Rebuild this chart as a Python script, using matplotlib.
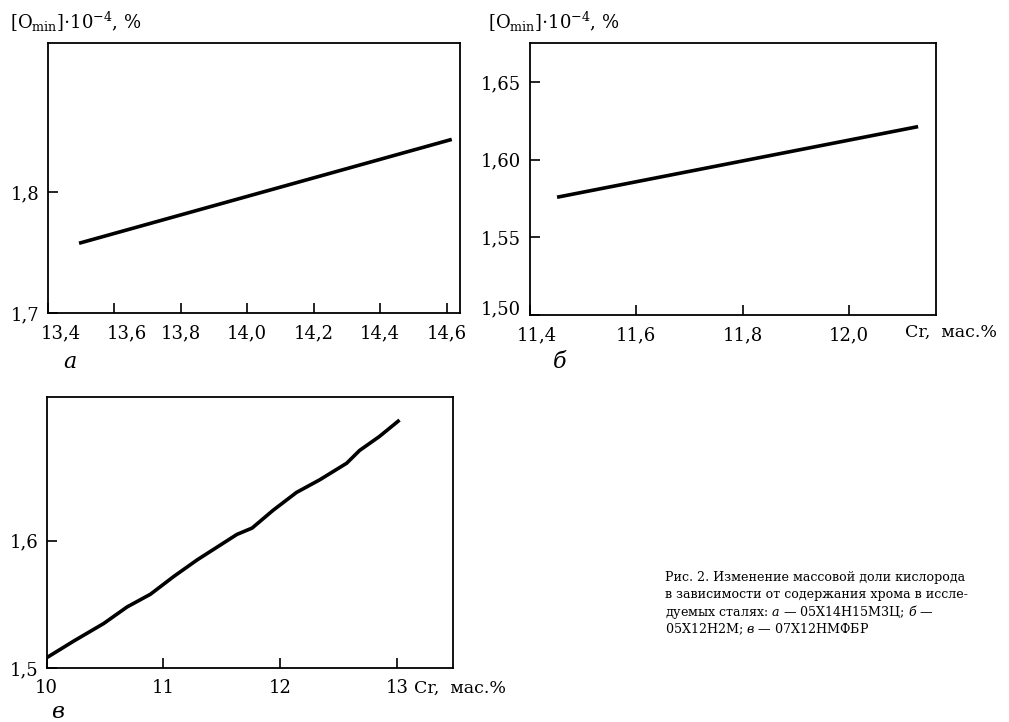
import numpy as np
import matplotlib
matplotlib.use("Agg")
from matplotlib import pyplot as plt
from matplotlib.transforms import ScaledTranslation

plt.rcParams["font.family"] = "DejaVu Serif"
plt.rcParams["mathtext.fontset"] = "dejavuserif"

# а — 05Х14Н15М3Ц
a_cr = [13.50, 14.61]
a_o = [1.758, 1.843]
# б — 05Х12Н2М
b_cr = [11.455, 12.126]
b_o = [1.576, 1.621]
# в — 07Х12НМФБР
v_cr = [10.00, 10.23, 10.49, 10.69, 10.89, 11.09, 11.29, 11.46, 11.63,
        11.76, 11.94, 12.14, 12.34, 12.57, 12.68, 12.85, 13.01]
v_o = [1.508, 1.521, 1.535, 1.548, 1.558, 1.572, 1.585, 1.595, 1.605,
       1.610, 1.624, 1.638, 1.648, 1.661, 1.671, 1.682, 1.694]

a_xt = [13.4, 13.6, 13.8, 14.0, 14.2, 14.4, 14.6]
a_yt = [1.7, 1.8]
b_xt = [11.4, 11.6, 11.8, 12.0]
b_yt = [1.50, 1.55, 1.60, 1.65]
v_xt = [10, 11, 12, 13]
v_yt = [1.5, 1.6]

ylab = r"[O$_{\rm min}$]$\cdot$10$^{-4}$, %"
W, H = 1009, 722


def px(x, y):
    return x / W, 1 - y / H


def setup(ax, xt, yt, xfmt, yfmt, xlim, ylim):
    ax.set_xlim(*xlim)
    ax.set_ylim(*ylim)
    ax.set_xticks(xt)
    ax.set_yticks(yt)
    ax.set_xticklabels([xfmt.format(v).replace(".", ",") for v in xt])
    ax.set_yticklabels([yfmt.format(v).replace(".", ",") for v in yt])
    ax.tick_params(direction="in", length=7, width=1.2, labelsize=13)
    ax.tick_params(axis="x", pad=8)
    ax.tick_params(axis="y", pad=6)
    for s in ax.spines.values():
        s.set_linewidth(1.3)


fig = plt.figure(figsize=(W / 100, H / 100), dpi=100)

ax1 = fig.add_axes([0.0471, 0.5665, 0.4088, 0.3739])
ax1.plot(a_cr, a_o, color="black", lw=2.6)
setup(ax1, a_xt, a_yt, "{:.1f}", "{:.1f}", (13.4, 14.64), (1.7, 1.923))
for lab in ax1.get_xticklabels()[:2]:
    lab.set_transform(lab.get_transform() + ScaledTranslation(0.13, 0, fig.dpi_scale_trans))

ax2 = fig.add_axes([0.5248, 0.5637, 0.4029, 0.3767])
ax2.plot(b_cr, b_o, color="black", lw=2.6)
setup(ax2, b_xt, b_yt, "{:.1f}", "{:.2f}", (11.4, 12.163), (1.5, 1.675))
ax2.get_xticklabels()[0].set_transform(
    ax2.get_xticklabels()[0].get_transform() + ScaledTranslation(0.07, 0, fig.dpi_scale_trans))
ax2.get_yticklabels()[0].set_transform(
    ax2.get_yticklabels()[0].get_transform() + ScaledTranslation(0, 0.08, fig.dpi_scale_trans))

ax3 = fig.add_axes([0.0461, 0.0748, 0.4029, 0.3753])
ax3.plot(v_cr, v_o, color="black", lw=2.6)
setup(ax3, v_xt, v_yt, "{:.0f}", "{:.1f}", (10, 13.48), (1.5, 1.713))

# axis titles
fig.text(*px(10, 22), ylab, fontsize=13, ha="left", va="center")
fig.text(*px(488, 22), ylab, fontsize=13, ha="left", va="center")
fig.text(*px(951, 332), "Cr,  мас.%", fontsize=12.5, ha="center", va="center")
fig.text(*px(460, 688), "Cr,  мас.%", fontsize=12.5, ha="center", va="center")

# panel letters
fig.text(*px(70, 362), "а", fontsize=16, style="italic", ha="center", va="center")
fig.text(*px(560, 362), "б", fontsize=16, style="italic", ha="center", va="center")
fig.text(*px(58, 712), "в", fontsize=16, style="italic", ha="center", va="center")

# caption
caption = [
    "Рис. 2. Изменение массовой доли кислорода",
    "в зависимости от содержания хрома в иссле-",
    r"дуемых сталях: $\mathit{а}$ — 05Х14Н15М3Ц; $\mathit{б}$ —",
    r"05Х12Н2М; $\mathit{в}$ — 07Х12НМФБР",
]
for i, line in enumerate(caption):
    fig.text(*px(665, 577 + i * 17.5), line, fontsize=9.1, ha="left", va="center")

fig.savefig("out.png", dpi=100)
